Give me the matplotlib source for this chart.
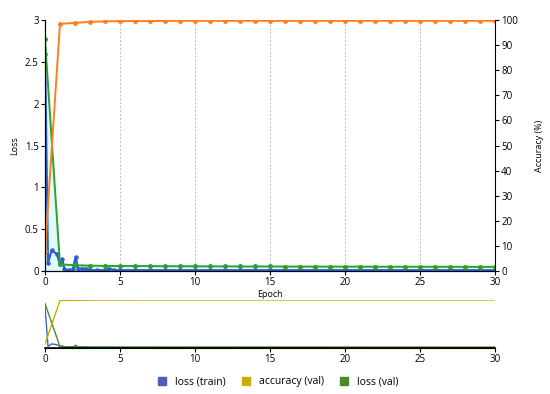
import matplotlib
matplotlib.use('Agg')
from matplotlib import pyplot as plt
from matplotlib.lines import Line2D

plt.rcParams['font.family'] = ['Open Sans', 'DejaVu Sans']

# loss (train), sampled at fractions of an epoch
train_epoch = [0, 0.2, 0.45, 0.8, 1.0, 1.15, 1.3, 1.6, 1.85, 2.05, 2.2, 2.5, 2.75,
               3.0, 3.5, 4.0, 4.3, 4.6, 5, 6, 7, 8, 9, 10, 11, 12, 13, 14, 15,
               16, 17, 18, 19, 20, 21, 22, 23, 24, 25, 26, 27, 28, 29, 30]
train_loss = [2.6, 0.1, 0.25, 0.2, 0.08, 0.14, 0.02, 0.01, 0.02, 0.17, 0.03, 0.03, 0.03,
              0.01, 0.01, 0.01, 0.03, 0.01, 0.01, 0.01, 0.01, 0.01, 0.01, 0.01, 0.01,
              0.01, 0.01, 0.01, 0.01, 0.01, 0.01, 0.01, 0.01, 0.01, 0.01, 0.01, 0.01,
              0.01, 0.01, 0.01, 0.01, 0.01, 0.01, 0.01]

val_epoch = list(range(31))
val_loss = [2.77, 0.08, 0.07, 0.065, 0.062, 0.06, 0.06, 0.06, 0.058, 0.058, 0.057,
            0.056, 0.056, 0.055, 0.055, 0.055, 0.054, 0.054, 0.054, 0.053, 0.053,
            0.053, 0.052, 0.052, 0.052, 0.052, 0.051, 0.051, 0.051, 0.05, 0.05]
val_acc = [8.0, 98.5, 98.9, 99.3, 99.5, 99.6, 99.6, 99.6, 99.7, 99.7, 99.7,
           99.7, 99.7, 99.7, 99.7, 99.7, 99.7, 99.7, 99.7, 99.7, 99.7,
           99.7, 99.7, 99.7, 99.7, 99.7, 99.7, 99.7, 99.7, 99.7, 99.7]

x_ticks = [0, 5, 10, 15, 20, 25, 30]
loss_ticks = [0, 0.5, 1, 1.5, 2, 2.5, 3]
acc_ticks = [0, 10, 20, 30, 40, 50, 60, 70, 80, 90, 100]

fig = plt.figure(figsize=(5.5, 3.94), dpi=100)
ax = fig.add_axes([0.0818, 0.312, 0.818, 0.637])
ax2 = ax.twinx()

fs = 7
ax.fill_between(val_epoch, val_loss, 0, color='#ccf5f5', alpha=0.6, lw=0)
ax.plot(train_epoch, train_loss, color='#2b5fd0', lw=1.6, marker='o', ms=2.2)
ax.plot(val_epoch, val_loss, color='#2ca02c', lw=1.4, marker='o', ms=2.5)
ax2.plot(val_epoch, val_acc, color='#ff7f1e', lw=1.4, marker='o', ms=2.5)

ax.set_xlim(0, 30)
ax.set_ylim(0, 3)
ax2.set_ylim(0, 100)
ax.set_xticks(x_ticks)
ax.set_yticks(loss_ticks)
ax.set_yticklabels(['0', '0.5', '1', '1.5', '2', '2.5', '3'])
ax2.set_yticks(acc_ticks)
for x in x_ticks[1:]:
    ax.axvline(x, color='#bbbbbb', lw=0.7, ls=(0, (2, 2)), zorder=0)

for a in (ax, ax2):
    a.spines['top'].set_visible(False)
    a.tick_params(labelsize=fs, length=3, width=0.8, pad=1.5)
ax.spines['right'].set_visible(False)
ax.set_ylabel('Loss', fontsize=6.5)
ax2.set_ylabel('Accuracy (%)', fontsize=6.5, labelpad=12)
ax.set_xlabel('Epoch', fontsize=6.5, labelpad=1)

# overview / navigator strip
nav = fig.add_axes([0.0818, 0.117, 0.818, 0.122])
nav2 = nav.twinx()
nav.plot(train_epoch, train_loss, color='#4660c8', lw=1.0)
nav.plot(val_epoch, val_loss, color='#4a8a2a', lw=1.0)
nav2.plot(val_epoch, val_acc, color='#c4b000', lw=1.0)
nav.set_xlim(0, 30)
nav.set_ylim(0, 3)
nav2.set_ylim(0, 100)
nav.set_xticks(x_ticks)
nav.set_yticks([])
nav2.set_yticks([])
for a in (nav, nav2):
    for s in ('top', 'left', 'right'):
        a.spines[s].set_visible(False)
nav.spines['bottom'].set_linewidth(1.2)
nav.tick_params(labelsize=fs, length=3, width=0.8, pad=1.5)

handles = [Line2D([], [], ls='none', marker='s', ms=6, color=c)
           for c in ('#4c5fc0', '#c8b000', '#4a8a2a')]
fig.legend(handles, ['loss (train)', 'accuracy (val)', 'loss (val)'],
           loc='center', bbox_to_anchor=(0.5, 0.031), ncol=3, frameon=False,
           fontsize=7.5, handletextpad=0.2, columnspacing=1.0)

fig.savefig('out.png', dpi=100)
